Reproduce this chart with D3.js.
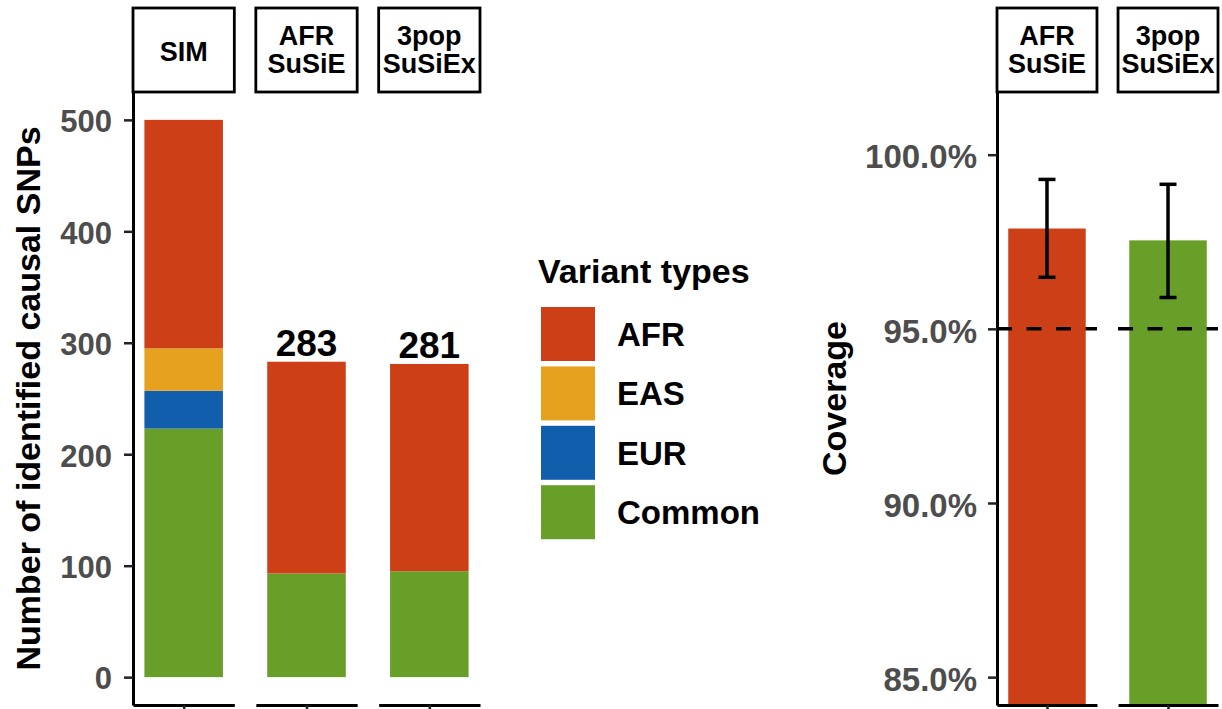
<!DOCTYPE html>
<html>
<head>
<meta charset="utf-8">
<script src="https://cdn.jsdelivr.net/npm/d3@7"></script>
<style>
  html, body { margin: 0; padding: 0; background: #fff; }
  svg { display: block; font-family: "Liberation Sans", Arial, sans-serif; font-weight: bold; }
</style>
</head>
<body>
<svg id="chart" width="1222" height="709"></svg>
<script>
// ---------------- data ----------------
const leftPanels = ["SIM", "AFR\nSuSiE", "3pop\nSuSiEx"];
const variantTypes = ["AFR", "EAS", "EUR", "Common"];
const variantColors = ["#CD4017", "#E6A11E", "#115EAD", "#689F29"];
const afrCounts = [205, 190, 186];
const easCounts = [38, 0, 0];
const eurCounts = [34, 0, 0];
const commonCounts = [223, 93, 95];
const totalLabels = ["", "283", "281"];
const leftTicks = [0, 100, 200, 300, 400, 500];

const rightPanels = ["AFR\nSuSiE", "3pop\nSuSiEx"];
const coverage = [97.88, 97.54];
const coverageLow = [96.48, 95.90];
const coverageHigh = [99.29, 99.15];
const coverageColors = ["#CD4017", "#689F29"];
const rightTicks = [85, 90, 95, 100];
const targetCoverage = 95;

// ---------------- layout ----------------
const svg = d3.select("#chart");
const panelTop = 92, panelBottom = 705;
const stripTop = 8;
const font = "Liberation Sans, Arial, sans-serif";

const yLeft = d3.scaleLinear().domain([-25, 525]).range([panelBottom, panelTop]);
const yRight = d3.scaleLinear().domain([84.2, 101.8]).range([panelBottom, panelTop]);

const xLeftPanels = d3.scaleBand().domain(leftPanels).range([133, 480]).paddingInner(0.175);
const xRightPanels = d3.scaleBand().domain(rightPanels).range([997, 1218]).paddingInner(0.174);
const barWidthUnits = 0.93;

function drawStrip(g, x0, w, label) {
  g.append("rect").attr("x", x0).attr("y", stripTop).attr("width", w).attr("height", panelTop - stripTop)
    .attr("fill", "#fff").attr("stroke", "#000").attr("stroke-width", 2.8);
  const lines = label.split("\n");
  const cx = x0 + w / 2;
  const baselines = lines.length === 1 ? [61] : [45, 73];
  lines.forEach((ln, i) => {
    g.append("text").attr("x", cx).attr("y", baselines[i]).attr("text-anchor", "middle")
      .attr("font-size", 27).attr("font-weight", "bold").attr("fill", "#000").text(ln);
  });
}

function styleAxis(sel, fs) {
  sel.selectAll("path.domain").attr("stroke", "#000").attr("stroke-width", 3);
  sel.selectAll(".tick line").attr("stroke", "#222").attr("stroke-width", 2.5);
  sel.selectAll(".tick text").attr("fill", "#4D4D4D").attr("font-size", fs)
    .attr("font-weight", "bold").attr("font-family", font);
}

// ---------------- left chart ----------------
const left = svg.append("g");
const stackData = leftPanels.map((p, i) => ({
  panel: p, AFR: afrCounts[i], EAS: easCounts[i], EUR: eurCounts[i], Common: commonCounts[i]
}));
const stackOrder = ["Common", "EUR", "EAS", "AFR"];
const stacked = d3.stack().keys(stackOrder)(stackData);
const colorOf = d3.scaleOrdinal().domain(variantTypes).range(variantColors);

leftPanels.forEach((p, i) => {
  const x0 = xLeftPanels(p), w = xLeftPanels.bandwidth();
  const inner = d3.scaleLinear().domain([0.4, 1.6]).range([x0, x0 + w]);
  stacked.forEach(layer => {
    const d = layer[i];
    if (d[1] - d[0] <= 0) return;
    left.append("rect")
      .attr("x", inner(1 - barWidthUnits / 2))
      .attr("width", inner(1 + barWidthUnits / 2) - inner(1 - barWidthUnits / 2))
      .attr("y", yLeft(d[1]))
      .attr("height", yLeft(d[0]) - yLeft(d[1]))
      .attr("fill", colorOf(layer.key));
  });
  if (totalLabels[i]) {
    const total = afrCounts[i] + easCounts[i] + eurCounts[i] + commonCounts[i];
    left.append("text").attr("x", inner(1)).attr("y", yLeft(total) - 6)
      .attr("text-anchor", "middle").attr("font-size", 37).attr("font-weight", "bold")
      .attr("fill", "#000").text(totalLabels[i]);
  }
  // bottom axis per panel
  const ax = left.append("g").attr("transform", `translate(0,${panelBottom})`)
    .call(d3.axisBottom(inner).tickValues([1]).tickFormat("").tickSize(9).tickSizeOuter(0));
  styleAxis(ax, 30);
  drawStrip(left, x0, w, p);
});

const yAxisLeft = left.append("g").attr("transform", `translate(133,0)`)
  .call(d3.axisLeft(yLeft).tickValues(leftTicks).tickSize(9).tickPadding(12).tickSizeOuter(0));
styleAxis(yAxisLeft, 31);
yAxisLeft.selectAll(".tick text").attr("dy", "0.38em");

left.append("text").attr("transform", `translate(40,${(panelTop + panelBottom) / 2}) rotate(-90)`)
  .attr("text-anchor", "middle").attr("font-size", 34).attr("font-weight", "bold").attr("fill", "#000")
  .text("Number of identified causal SNPs");

// ---------------- legend ----------------
const legend = svg.append("g");
legend.append("text").attr("x", 538).attr("y", 283).attr("font-size", 34).attr("font-weight", "bold")
  .attr("fill", "#000").text("Variant types");
variantTypes.forEach((v, i) => {
  const y0 = 307 + i * 59.4;
  legend.append("rect").attr("x", 541).attr("y", y0).attr("width", 54).attr("height", 54)
    .attr("fill", variantColors[i]);
  legend.append("text").attr("x", 617).attr("y", y0 + 27).attr("dy", "0.36em")
    .attr("font-size", 33).attr("font-weight", "bold").attr("fill", "#000").text(v);
});

// ---------------- right chart ----------------
const right = svg.append("g");
rightPanels.forEach((p, i) => {
  const x0 = xRightPanels(p), w = xRightPanels.bandwidth();
  const inner = d3.scaleLinear().domain([0.4, 1.6]).range([x0, x0 + w]);
  const clipId = "clip" + i;
  right.append("clipPath").attr("id", clipId).append("rect")
    .attr("x", x0).attr("y", panelTop).attr("width", w).attr("height", panelBottom - panelTop);
  const pg = right.append("g").attr("clip-path", `url(#${clipId})`);
  pg.append("rect")
    .attr("x", inner(1 - barWidthUnits / 2))
    .attr("width", inner(1 + barWidthUnits / 2) - inner(1 - barWidthUnits / 2))
    .attr("y", yRight(coverage[i]))
    .attr("height", yRight(84.2) - yRight(coverage[i]) + 5)
    .attr("fill", coverageColors[i]);
  pg.append("line").attr("x1", x0).attr("x2", x0 + w)
    .attr("y1", yRight(targetCoverage)).attr("y2", yRight(targetCoverage))
    .attr("stroke", "#000").attr("stroke-width", 3.5).attr("stroke-dasharray", "15 14.5");
  // error bar
  const cx = inner(1), cap = 8.5;
  pg.append("line").attr("x1", cx).attr("x2", cx)
    .attr("y1", yRight(coverageHigh[i])).attr("y2", yRight(coverageLow[i]))
    .attr("stroke", "#000").attr("stroke-width", 3.5);
  [coverageHigh[i], coverageLow[i]].forEach(v => {
    pg.append("line").attr("x1", cx - cap).attr("x2", cx + cap)
      .attr("y1", yRight(v)).attr("y2", yRight(v))
      .attr("stroke", "#000").attr("stroke-width", 3.5);
  });
  const ax = right.append("g").attr("transform", `translate(0,${panelBottom})`)
    .call(d3.axisBottom(inner).tickValues([1]).tickFormat("").tickSize(9).tickSizeOuter(0));
  styleAxis(ax, 30);
  drawStrip(right, x0, w, p);
});

const yAxisRight = right.append("g").attr("transform", `translate(997,0)`)
  .call(d3.axisLeft(yRight).tickValues(rightTicks).tickSize(9).tickPadding(11).tickSizeOuter(0)
    .tickFormat(d => d3.format(".1f")(d) + "%"));
styleAxis(yAxisRight, 33);
yAxisRight.selectAll(".tick text").attr("dy", "0.4em");

right.append("text").attr("transform", `translate(846,${(panelTop + panelBottom) / 2}) rotate(-90)`)
  .attr("text-anchor", "middle").attr("font-size", 34).attr("font-weight", "bold").attr("fill", "#000")
  .text("Coverage");
</script>
</body>
</html>
